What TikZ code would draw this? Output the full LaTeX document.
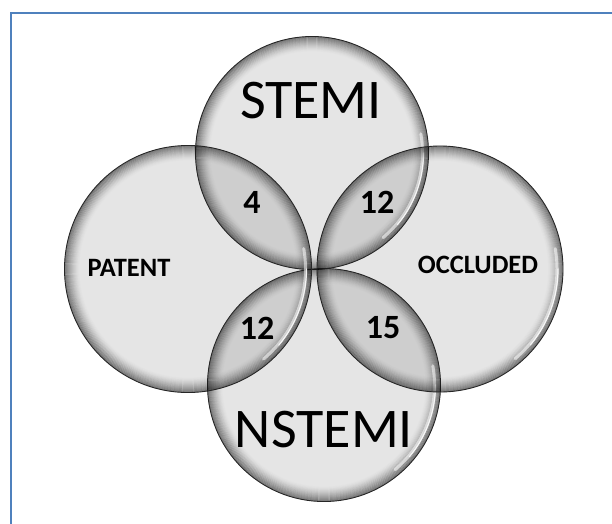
\documentclass[tikz,border=0pt]{standalone}
\usepackage{fontspec}
\setmainfont{Carlito}
\usetikzlibrary{positioning}
\definecolor{frameblue}{RGB}{79,129,189}
\tikzset{%
	disc/.style     = {circle, inner sep=0pt, fill=black, fill opacity=0.10}, % set circle
	setname/.style  = {font=\fontsize{56}{56}\selectfont},
	groupname/.style= {font=\bfseries\fontsize{26.5}{26.5}\selectfont},
	count/.style    = {font=\bfseries\fontsize{34}{34}\selectfont},
}
\begin{document}
\begin{tikzpicture}[x=1pt,y=-1pt]
	\useasboundingbox (0,0) rectangle (612,523);
	\draw[frameblue, line width=2pt] (11,13) rectangle (660,580);
	
	% the four sets
	\foreach \nm/\cx/\cy/\rr in {stemi/312/153/116.5, nstemi/324/385/116.5, patent/188/269/123.5, occluded/440/269/123}
		\node[disc, minimum size=2*\rr pt] (\nm) at (\cx,\cy) {};
	
	% glassy rims
	\foreach \nm/\rr in {stemi/116.5, nstemi/116.5, patent/123.5, occluded/123} {
		\foreach \k in {1,...,15}
			\draw[black, line width=1.2pt, draw opacity={0.45*(1-\k/16)^1.5}] (\nm.center) circle ({\rr-\k+0.5});
		\draw[white, line width=3pt, draw opacity=0.55, line cap=round] (\nm.center) ++(-10:\rr-6) arc[start angle=-10, end angle=50, radius=\rr-6];
		\draw[white, line width=1.2pt, draw opacity=0.8, line cap=round] (\nm.center) ++(0:\rr-5) arc[start angle=0, end angle=40, radius=\rr-5];
		\draw[black!85, line width=0.9pt] (\nm.center) circle (\rr);
	}
	
	\node[setname] (stemitext) at (311,101) {STEMI};
	\node[setname] (nstemitext) at (324,430) {NSTEMI};
	\node[groupname] (patenttext) at (129,268) {PATENT};
	\node[groupname] (occludedtext) at (478,265) {OCCLUDED};
	
	\node[count] (stpat) at (252,202) {4};
	\node[count] (stocc) at (377,202) {12};
	\node[count] (nstpat) at (257,328) {12};
	\node[count] (nstocc) at (383,328) {15};
\end{tikzpicture}
\end{document}
